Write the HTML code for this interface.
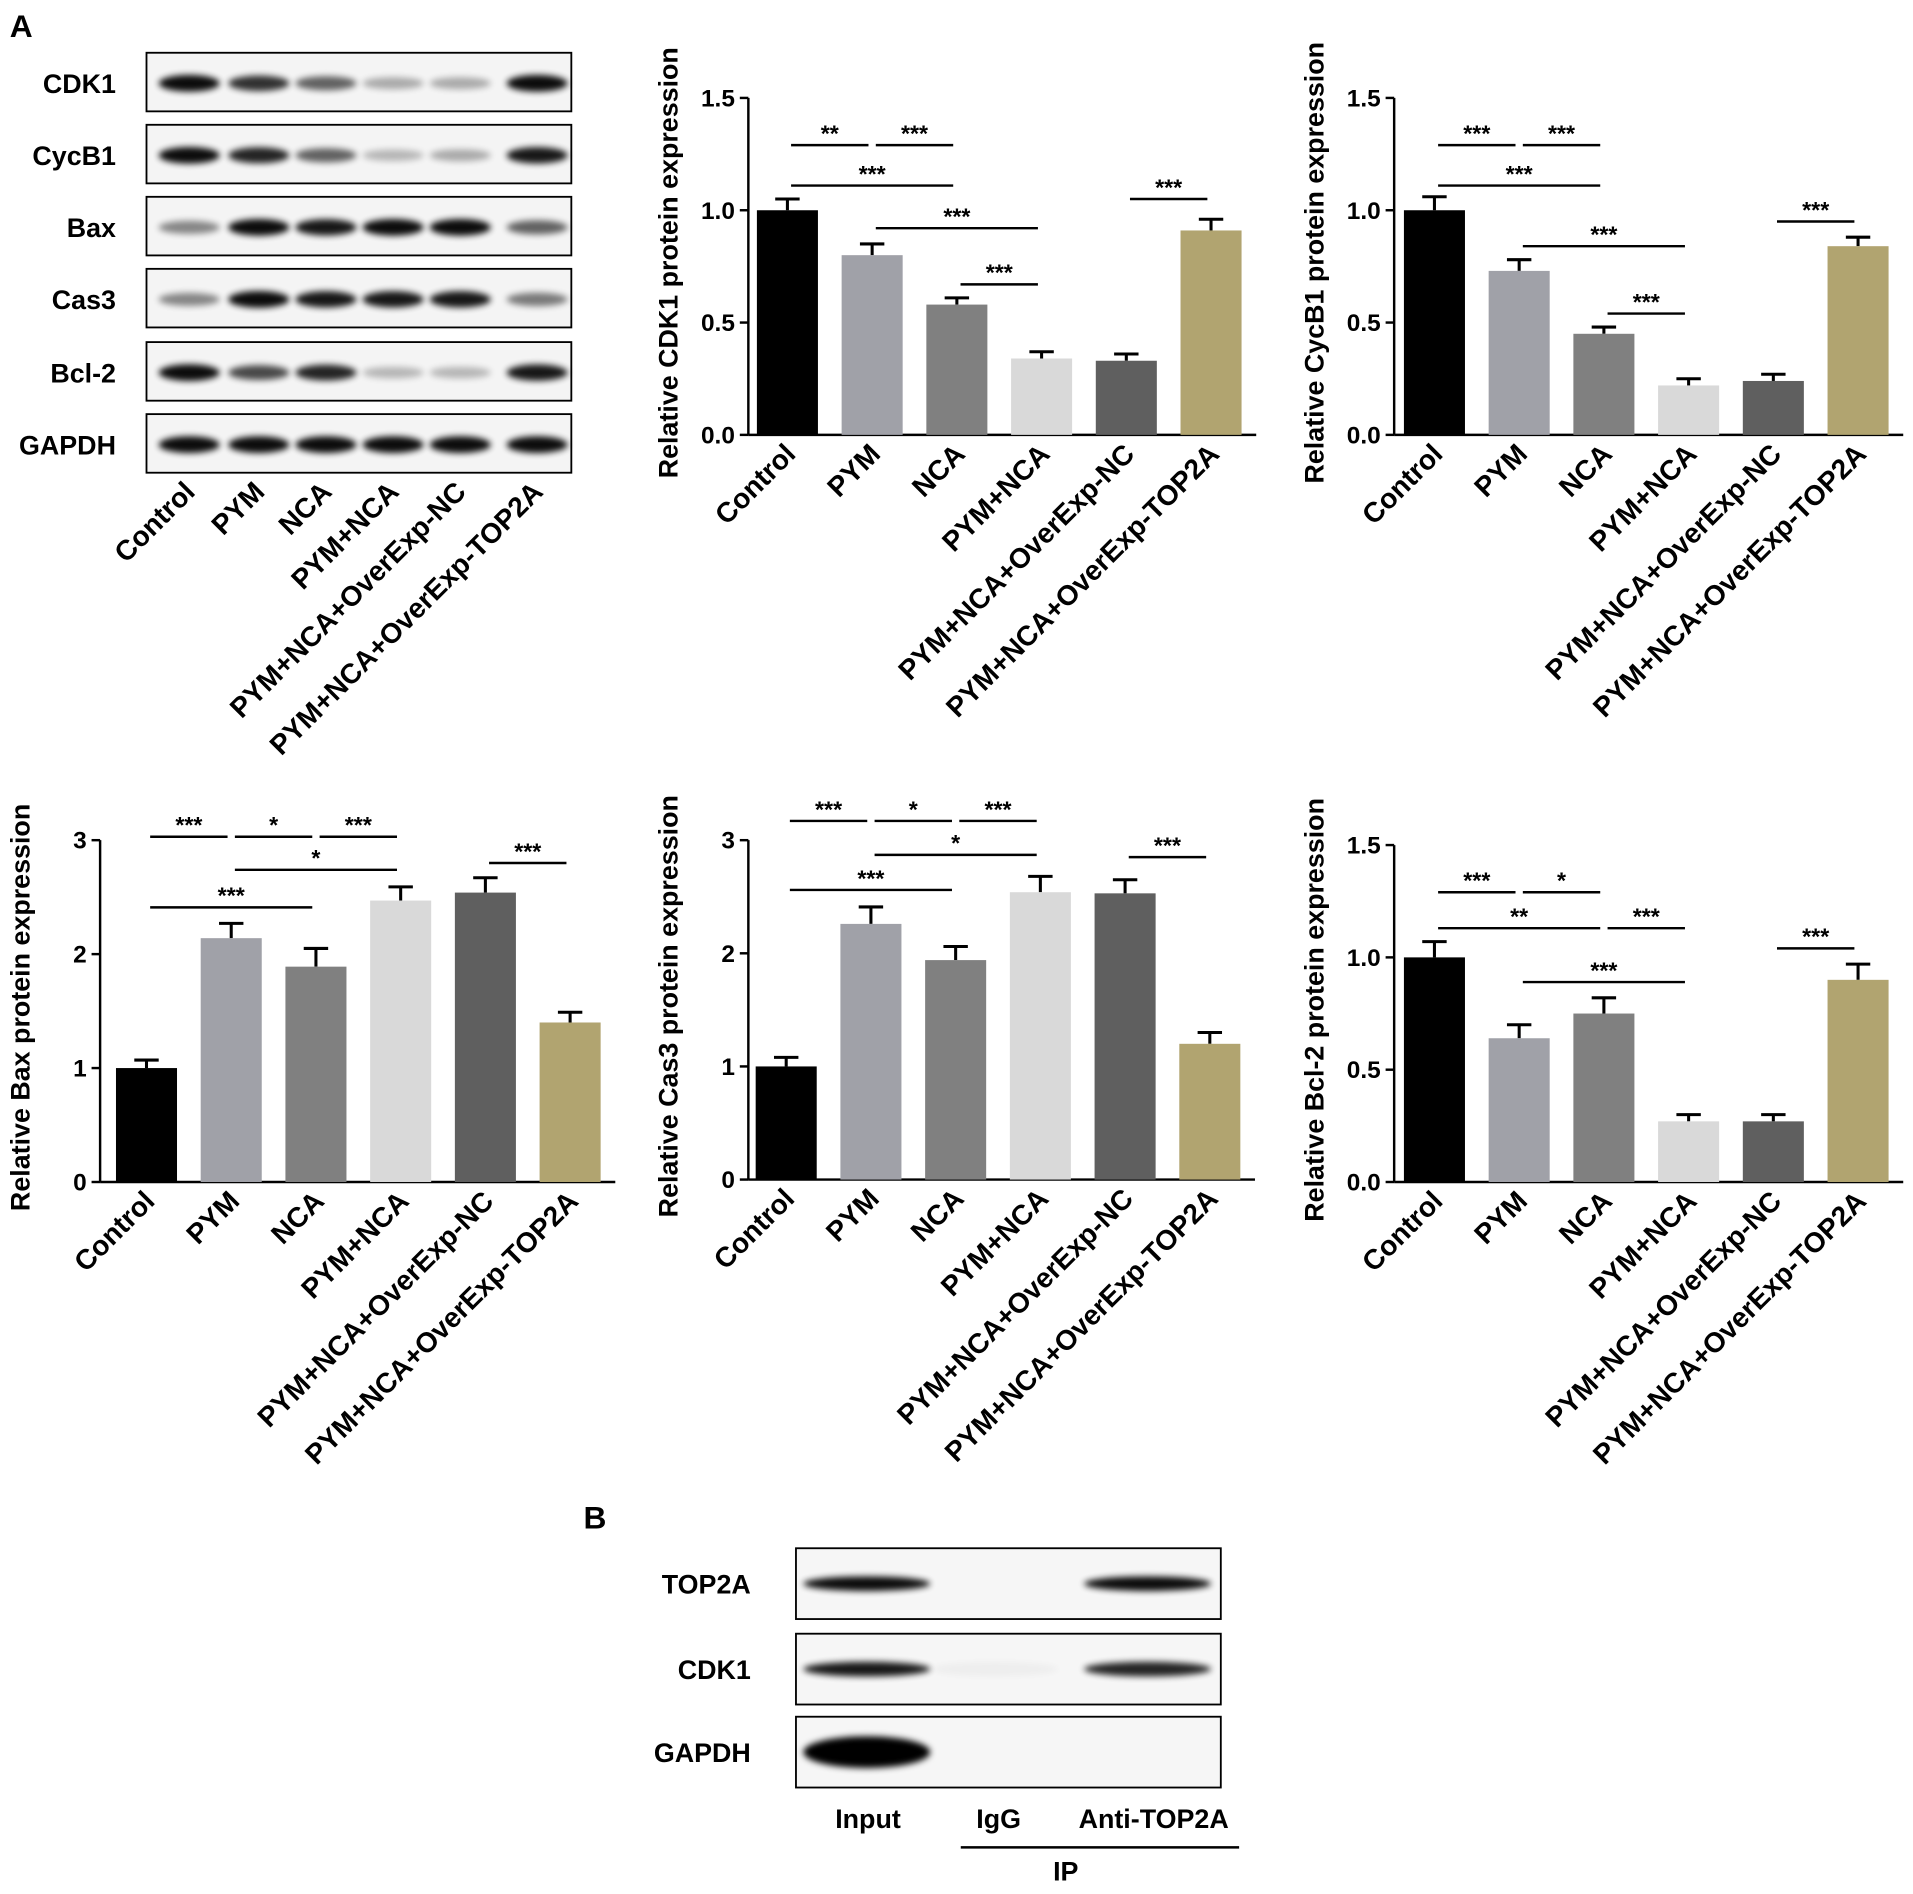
<!DOCTYPE html>
<html><head><meta charset="utf-8"><style>
html,body{margin:0;padding:0;background:#fff}
svg{display:block;font-family:"Liberation Sans",Arial,sans-serif}
</style></head><body>
<svg id="fig" width="1913" height="1894" viewBox="0 0 1567 1551" xmlns="http://www.w3.org/2000/svg">
<defs><filter id="blur" x="-50%" y="-100%" width="200%" height="300%"><feGaussianBlur stdDeviation="2.6"/></filter></defs>
<g id="root"></g>
</svg>
<script>
// ---- data ----
const categories = ["Control","PYM","NCA","PYM+NCA","PYM+NCA+OverExp-NC","PYM+NCA+OverExp-TOP2A"];
const cdk1Values = [1.0,0.80,0.58,0.34,0.33,0.91];
const cdk1Errors = [0.05,0.05,0.03,0.03,0.03,0.05];
const cycb1Values = [1.0,0.73,0.45,0.22,0.24,0.84];
const cycb1Errors = [0.06,0.05,0.03,0.03,0.03,0.04];
const baxValues = [1.0,2.14,1.89,2.47,2.54,1.40];
const baxErrors = [0.07,0.13,0.16,0.12,0.13,0.09];
const cas3Values = [1.0,2.26,1.94,2.54,2.53,1.20];
const cas3Errors = [0.08,0.15,0.12,0.14,0.12,0.10];
const bcl2Values = [1.0,0.64,0.75,0.27,0.27,0.90];
const bcl2Errors = [0.07,0.06,0.07,0.03,0.03,0.07];
const ticks15 = [0,0.5,1.0,1.5];
const ticks15Labels = ["0.0","0.5","1.0","1.5"];
const ticks3 = [0,1,2,3];
const ticks3Labels = ["0","1","2","3"];
// significance brackets: [fromIdx, toIdx, yValue, label]
const cdk1Sig = [[0,1,1.29,"**"],[1,2,1.29,"***"],[0,2,1.11,"***"],[1,3,0.92,"***"],[2,3,0.67,"***"],[4,5,1.05,"***"]];
const cycb1Sig = [[0,1,1.29,"***"],[1,2,1.29,"***"],[0,2,1.11,"***"],[1,3,0.84,"***"],[2,3,0.54,"***"],[4,5,0.95,"***"]];
const baxSig = [[0,1,3.03,"***"],[1,2,3.03,"*"],[2,3,3.03,"***"],[1,3,2.74,"*"],[0,2,2.41,"***"],[4,5,2.80,"***"]];
const cas3Sig = [[0,1,3.17,"***"],[1,2,3.17,"*"],[2,3,3.17,"***"],[1,3,2.87,"*"],[0,2,2.56,"***"],[4,5,2.85,"***"]];
const bcl2Sig = [[0,1,1.29,"***"],[1,2,1.29,"*"],[0,2,1.13,"**"],[2,3,1.13,"***"],[1,3,0.89,"***"],[4,5,1.04,"***"]];
// blot band intensities (0..1)
const blotRows = ["CDK1","CycB1","Bax","Cas3","Bcl-2","GAPDH"];
const blotIntensity = [
 [0.95,0.8,0.6,0.3,0.3,0.95],
 [0.95,0.85,0.6,0.25,0.3,0.9],
 [0.45,0.95,0.9,0.95,0.95,0.6],
 [0.45,0.95,0.9,0.9,0.9,0.5],
 [0.95,0.7,0.85,0.25,0.25,0.9],
 [0.95,0.95,0.95,0.95,0.95,0.95]];
const ipRows = ["TOP2A","CDK1","GAPDH"];
const ipLanes = ["Input","IgG","Anti-TOP2A"];
const ipIntensity = [[0.95,0,0.95],[0.9,0.03,0.85],[1,0,0]];

const colors = ["#000000","#a0a1a8","#808080","#d9d9d9","#5f5f5f","#b1a470"];
const NS="http://www.w3.org/2000/svg";
const root=document.getElementById('root');
function el(tag,attrs,parent,text){const e=document.createElementNS(NS,tag);for(const k in attrs)e.setAttribute(k,attrs[k]);if(text!==undefined)e.textContent=text;(parent||root).appendChild(e);return e;}

function chart(name, ox, oy, top, x0, ymax, ticks, tickLabels, values, errors, sig, ylabel){
  const g=el('g',{});
  
  
  const step=69.4, bw=50;
  const yS=v=>oy-(oy-top)*v/ymax;
  const xS=i=>x0+i*step;
  el('line',{x1:ox,y1:top,x2:ox,y2:oy,stroke:'#000','stroke-width':2},g);
  el('line',{x1:ox,y1:oy,x2:xS(5)+bw/2+12,y2:oy,stroke:'#000','stroke-width':2},g);
  ticks.forEach((t,i)=>{
    el('line',{x1:ox-7,y1:yS(t),x2:ox,y2:yS(t),stroke:'#000','stroke-width':2},g);
    const tx=el('text',{x:ox-11,y:yS(t)+7,'text-anchor':'end','font-size':20,'font-weight':'bold'},g,tickLabels[i]);
    
    
  });
  const yl=el('text',{transform:`translate(${ox-58},${(top+oy)/2-3}) rotate(-90)`,'text-anchor':'middle','font-size':22,'font-weight':'bold'},g,ylabel);
  
  
  values.forEach((v,i)=>{
    const cx=xS(i);
    el('line',{x1:cx,y1:yS(v),x2:cx,y2:yS(v+errors[i]),stroke:'#000','stroke-width':2.5},g);
    el('line',{x1:cx-10,y1:yS(v+errors[i]),x2:cx+10,y2:yS(v+errors[i]),stroke:'#000','stroke-width':2.5},g);
    const b=el('rect',{x:cx-bw/2,y:yS(v),width:bw,height:oy-yS(v),fill:colors[i]},g);
    
    
    const lab=el('text',{transform:`translate(${cx+8},${oy+17}) rotate(-45)`,'text-anchor':'end','font-size':23,'font-weight':'bold'},g,categories[i]);
    
    
  });
  sig.forEach(s=>{
    const y=yS(s[2]);
    const x1=xS(s[0])+3,x2=xS(s[1])-3;
    el('line',{x1:x1,y1:y,x2:x2,y2:y,stroke:'#000','stroke-width':2},g);
    const t=el('text',{x:(x1+x2)/2,y:y-3,'text-anchor':'middle','font-size':19,'font-weight':'bold'},g,s[3]);
    
    
  });
}

chart('cdk1',613,356,80,645,1.5,ticks15,ticks15Labels,cdk1Values,cdk1Errors,cdk1Sig,'Relative CDK1 protein expression');
chart('cycb1',1142,356,80,1175,1.5,ticks15,ticks15Labels,cycb1Values,cycb1Errors,cycb1Sig,'Relative CycB1 protein expression');
chart('bax',82,968,688,120,3,ticks3,ticks3Labels,baxValues,baxErrors,baxSig,'Relative Bax protein expression');
chart('cas3',613,966,688,644,3,ticks3,ticks3Labels,cas3Values,cas3Errors,cas3Sig,'Relative Cas3 protein expression');
chart('bcl2',1142,968,692,1175,1.5,ticks15,ticks15Labels,bcl2Values,bcl2Errors,bcl2Sig,'Relative Bcl-2 protein expression');

// panel labels
let pa=el('text',{x:8,y:30,'font-size':26,'font-weight':'bold'},root,'A');

let pb=el('text',{x:478,y:1252,'font-size':26,'font-weight':'bold'},root,'B');


// western blot panel A
const laneX=[155,212,267,322,377,440];
const rowTop=[43,102,161,220,280,339];
blotRows.forEach((r,ri)=>{
  const g=el('g',{});
  
  
  el('rect',{x:120,y:rowTop[ri],width:348,height:48,fill:'#f4f4f4',stroke:'#000','stroke-width':1.5},g);
  const cy=rowTop[ri]+25;
  blotIntensity[ri].forEach((v,li)=>{
    el('ellipse',{cx:laneX[li],cy:cy,rx:25,ry:4+3*v,fill:'#000',opacity:v,filter:'url(#blur)'},g);
  });
  el('text',{x:95,y:cy+8,'text-anchor':'end','font-size':22,'font-weight':'bold'},g,r);
});
categories.forEach((c,i)=>{
  const t=el('text',{transform:`translate(${laneX[i]+6},${404}) rotate(-45)`,'text-anchor':'end','font-size':23,'font-weight':'bold'},root,c);
  
  
});

// panel B
const ipTop=[1268,1338,1406];
const ipX=[715,820,940];
ipRows.forEach((r,ri)=>{
  const g=el('g',{});
  
  
  el('rect',{x:652,y:ipTop[ri],width:348,height:58,fill:'#f6f6f6',stroke:'#000','stroke-width':1.5},g);
  const cy=ipTop[ri]+29;
  ipIntensity[ri].forEach((v,li)=>{
    if(v>0) el('ellipse',{cx:ipX[li]+(li==2?0:-5),cy:cy,rx:52,ry:ri==2&&li==0?13:6,fill:'#000',opacity:v,filter:'url(#blur)'},g);
  });
  el('text',{x:615,y:cy+8,'text-anchor':'end','font-size':22,'font-weight':'bold'},g,r);
});
ipLanes.forEach((l,i)=>{
  const t=el('text',{x:[711,818,945][i],y:1497,'text-anchor':'middle','font-size':22,'font-weight':'bold'},root,l);
  
  
});
el('line',{x1:787,y1:1513,x2:1015,y2:1513,stroke:'#000','stroke-width':2});
let ip=el('text',{x:873,y:1540,'text-anchor':'middle','font-size':22,'font-weight':'bold'},root,'IP');

</script>
</body></html>
